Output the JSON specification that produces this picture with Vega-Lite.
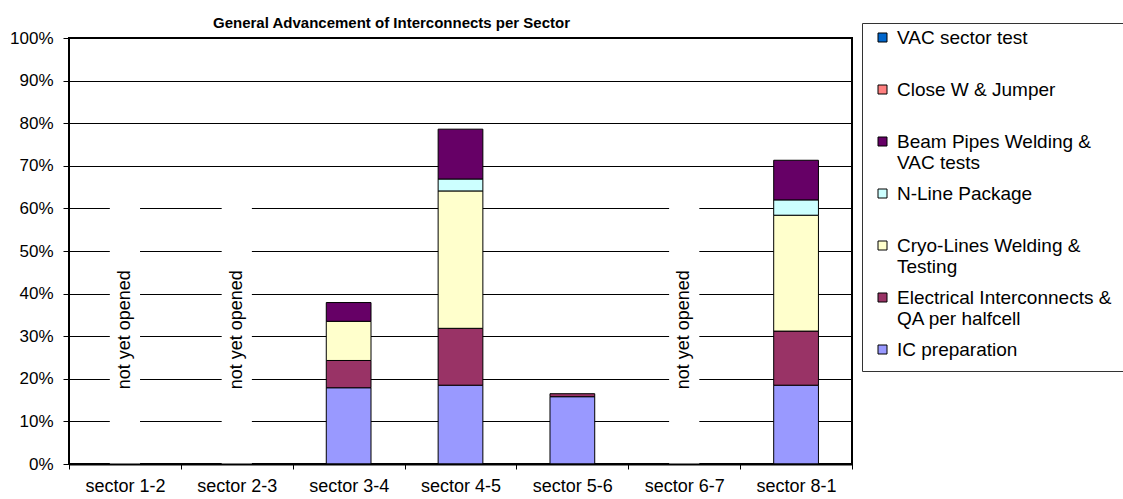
{
  "$schema": "https://vega.github.io/schema/vega-lite/v6.json",
  "width": 783,
  "height": 426,
  "autosize": {"type": "none"},
  "padding": {"left": 69, "top": 38, "right": 271, "bottom": 35},
  "background": "white",
  "config": {
    "font": "Liberation Sans",
    "view": {"stroke": "#000000", "strokeWidth": 2},
    "axis": {"labelColor": "#000000", "tickColor": "#000000", "domain": false, "title": null, "labelFont": "Liberation Sans"},
    "legend": {"labelFont": "Liberation Sans"}
  },
  "title": {
    "text": "General Advancement of Interconnects per Sector",
    "font": "Liberation Sans",
    "fontSize": 15,
    "fontWeight": "bold",
    "color": "#000000",
    "anchor": "start",
    "frame": "group",
    "dx": 144,
    "baseline": "alphabetic",
    "offset": -20
  },
  "datasets": {
    "progress": [
      {"sector": "sector 3-4", "task": "IC preparation", "stackOrder": 1, "value": 0.179},
      {"sector": "sector 3-4", "task": "Electrical Interconnects & QA per halfcell", "stackOrder": 2, "value": 0.064},
      {"sector": "sector 3-4", "task": "Cryo-Lines Welding & Testing", "stackOrder": 3, "value": 0.092},
      {"sector": "sector 3-4", "task": "Beam Pipes Welding & VAC tests", "stackOrder": 5, "value": 0.044},
      {"sector": "sector 4-5", "task": "IC preparation", "stackOrder": 1, "value": 0.185},
      {"sector": "sector 4-5", "task": "Electrical Interconnects & QA per halfcell", "stackOrder": 2, "value": 0.1335},
      {"sector": "sector 4-5", "task": "Cryo-Lines Welding & Testing", "stackOrder": 3, "value": 0.3225},
      {"sector": "sector 4-5", "task": "N-Line Package", "stackOrder": 4, "value": 0.028},
      {"sector": "sector 4-5", "task": "Beam Pipes Welding & VAC tests", "stackOrder": 5, "value": 0.117},
      {"sector": "sector 5-6", "task": "IC preparation", "stackOrder": 1, "value": 0.158},
      {"sector": "sector 5-6", "task": "Electrical Interconnects & QA per halfcell", "stackOrder": 2, "value": 0.007},
      {"sector": "sector 8-1", "task": "IC preparation", "stackOrder": 1, "value": 0.185},
      {"sector": "sector 8-1", "task": "Electrical Interconnects & QA per halfcell", "stackOrder": 2, "value": 0.127},
      {"sector": "sector 8-1", "task": "Cryo-Lines Welding & Testing", "stackOrder": 3, "value": 0.272},
      {"sector": "sector 8-1", "task": "N-Line Package", "stackOrder": 4, "value": 0.036},
      {"sector": "sector 8-1", "task": "Beam Pipes Welding & VAC tests", "stackOrder": 5, "value": 0.093}
    ],
    "notes": [
      {"sector": "sector 1-2", "note": "not yet opened"},
      {"sector": "sector 2-3", "note": "not yet opened"},
      {"sector": "sector 6-7", "note": "not yet opened"}
    ]
  },
  "layer": [
    {
      "data": {"name": "notes"},
      "mark": {"type": "bar", "fill": "white", "strokeWidth": 0, "width": {"band": 0.27}},
      "encoding": {
        "x": {"field": "sector", "type": "nominal", "scale": {"domain": ["sector 1-2", "sector 2-3", "sector 3-4", "sector 4-5", "sector 5-6", "sector 6-7", "sector 8-1"], "paddingInner": 0, "paddingOuter": 0},
          "axis": {"labelAngle": 0, "tickBand": "extent", "tickSize": 5, "labelPadding": 8, "labelFontSize": 18, "grid": false, "domain": true, "domainColor": "#000000", "domainWidth": 2, "zindex": 1}},
        "y": {"datum": 0, "type": "quantitative", "scale": {"domain": [0, 1]},
          "axis": {"format": ".0%", "values": [0, 0.1, 0.2, 0.3, 0.4, 0.5, 0.6, 0.7, 0.8, 0.9, 1], "labelFontSize": 17, "tickSize": 6, "labelPadding": 10, "grid": true, "gridColor": "#000000", "gridWidth": 1}},
        "y2": {"datum": 0.66}
      }
    },
    {
      "data": {"name": "notes"},
      "mark": {"type": "text", "angle": 270, "fontSize": 18, "font": "Liberation Sans", "color": "#000000", "align": "center", "baseline": "middle"},
      "encoding": {
        "x": {"field": "sector", "type": "nominal"},
        "y": {"datum": 0.315, "type": "quantitative"},
        "text": {"field": "note"}
      }
    },
    {
      "data": {"name": "progress"},
      "mark": {"type": "bar", "stroke": "#000000", "strokeWidth": 1, "width": {"band": 0.4}},
      "encoding": {
        "x": {"field": "sector", "type": "nominal"},
        "y": {"field": "value", "type": "quantitative", "stack": "zero"},
        "order": {"field": "stackOrder", "type": "quantitative", "sort": "ascending"},
        "color": {
          "field": "task",
          "type": "nominal",
          "scale": {
            "domain": ["VAC sector test", "Close W & Jumper", "Beam Pipes Welding & VAC tests", "N-Line Package", "Cryo-Lines Welding & Testing", "Electrical Interconnects & QA per halfcell", "IC preparation"],
            "range": ["#0066CC", "#FF8080", "#660066", "#CCFFFF", "#FFFFCC", "#993366", "#9999FF"]
          },
          "legend": {
            "title": null,
            "orient": "none",
            "legendX": 793,
            "legendY": -15,
            "strokeColor": "#333333",
            "fillColor": "white",
            "padding": 11,
            "symbolType": "M-2.7,-2.33M-1,-2.33H1V-0.33H-1Z",
            "symbolSize": 81,
            "symbolStrokeColor": "#000000",
            "symbolStrokeWidth": 1,
            "symbolOpacity": 1,
            "labelFontSize": 19,
            "labelColor": "#000000",
            "labelLimit": 400,
            "labelOffset": 5,
            "labelLineHeight": 21,
            "labelBaseline": "alphabetic",
            "rowPadding": 11,
            "labelExpr": "datum.label == 'Beam Pipes Welding & VAC tests' ? ['Beam Pipes Welding &', 'VAC tests'] : datum.label == 'Cryo-Lines Welding & Testing' ? ['Cryo-Lines Welding &', 'Testing'] : datum.label == 'Electrical Interconnects & QA per halfcell' ? ['Electrical Interconnects &', 'QA per halfcell'] : datum.label == 'IC preparation' ? datum.label : [datum.label, ' ']"
          }
        }
      }
    }
  ]
}
